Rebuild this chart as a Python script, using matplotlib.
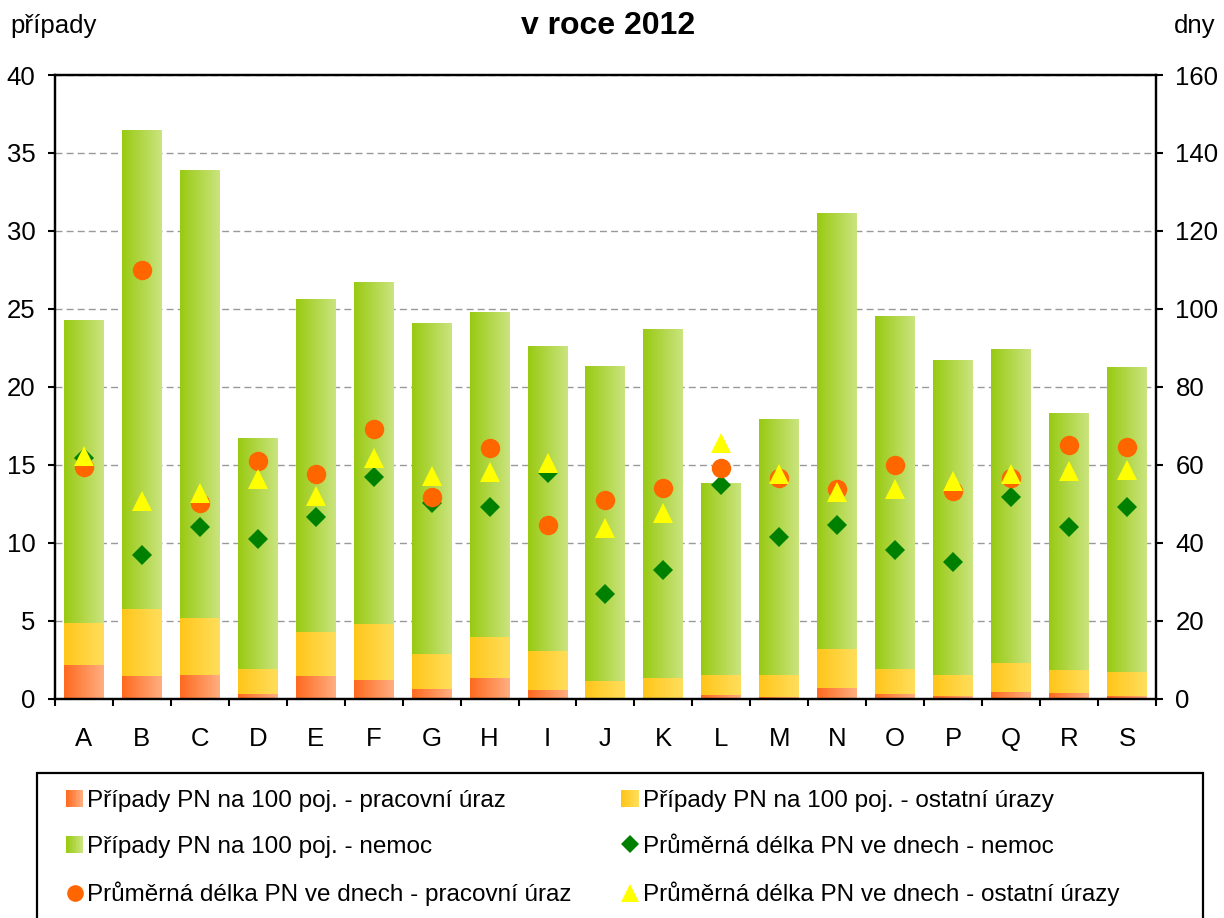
import numpy as np
import matplotlib
matplotlib.use('Agg')
import matplotlib.pyplot as plt
from matplotlib.colors import LinearSegmentedColormap
from matplotlib.legend_handler import HandlerBase
from matplotlib.patches import Rectangle, Patch
from matplotlib.lines import Line2D

plt.rcParams['font.family'] = ['Liberation Sans', 'DejaVu Sans']

# data
categories = list('ABCDEFGHIJKLMNOPQRS')
pripady_uraz = [2.2, 1.5, 1.55, 0.3, 1.5, 1.2, 0.65, 1.35, 0.6, 0.05,
                0.05, 0.25, 0.15, 0.7, 0.3, 0.2, 0.45, 0.4, 0.2]
pripady_ostatni = [2.67, 4.27, 3.64, 1.62, 2.79, 3.61, 2.23, 2.62, 2.48, 1.1,
                   1.3, 1.29, 1.39, 2.5, 1.62, 1.34, 1.86, 1.46, 1.53]
pripady_nemoc = [19.4, 30.7, 28.7, 14.8, 21.3, 21.9, 21.2, 20.8, 19.5, 20.15,
                 22.35, 12.3, 16.35, 27.9, 22.6, 20.15, 20.1, 16.45, 19.55]
delka_nemoc = [61.8, 36.9, 44.2, 41.0, 46.7, 56.8, 50.2, 49.1, 57.9, 27.0,
               33.0, 54.8, 41.5, 44.6, 38.2, 35.1, 51.9, 44.2, 49.2]
delka_uraz = [59.5, 110, 50.2, 61.0, 57.6, 69.1, 51.9, 64.3, 44.7, 50.9,
              54.1, 59.2, 56.6, 53.8, 60.0, 53.2, 56.6, 65.0, 64.5]
delka_ostatni = [62.4, 50.8, 52.7, 56.3, 52.0, 61.8, 57.3, 58.2, 60.6, 43.8,
                 47.6, 65.6, 57.7, 53.0, 53.8, 56.0, 57.8, 58.5, 58.7]

grad_orange = ('#FF6A1F', '#FFAE80')
grad_yellow = ('#FFC61A', '#FFDE5C')
grad_green = ('#99CA12', '#CAE47E')


def fill_gradient(ax, bars, colors):
    cmap = LinearSegmentedColormap.from_list('g', list(colors))
    grad = np.linspace(0, 1, 64).reshape(1, -1)
    for b in bars:
        x, y = b.get_x(), b.get_y()
        w, h = b.get_width(), b.get_height()
        ax.imshow(grad, cmap=cmap, extent=[x, x + w, y, y + h],
                  aspect='auto', zorder=2, interpolation='bilinear')
        b.set_visible(False)


class GradientHandler(HandlerBase):
    def __init__(self, colors):
        super().__init__()
        self.colors = colors

    def create_artists(self, legend, orig_handle, xdescent, ydescent,
                       width, height, fontsize, trans):
        cmap = LinearSegmentedColormap.from_list('g', list(self.colors))
        n = 12
        arts = []
        for i in range(n):
            r = Rectangle((-xdescent + width * i / n, -ydescent), width / n + 0.3, height,
                          facecolor=cmap(i / (n - 1)), edgecolor='none', transform=trans)
            arts.append(r)
        return arts


fig = plt.figure(figsize=(12.24, 9.18), dpi=100)
ax = fig.add_axes([0.0449, 0.2386, 0.8995, 0.6797])
x = np.arange(len(categories))
w = 0.69

b1 = ax.bar(x, pripady_uraz, w)
b2 = ax.bar(x, pripady_ostatni, w, bottom=pripady_uraz)
bottom3 = np.array(pripady_uraz) + np.array(pripady_ostatni)
b3 = ax.bar(x, pripady_nemoc, w, bottom=bottom3)
fill_gradient(ax, b1, grad_orange)
fill_gradient(ax, b2, grad_yellow)
fill_gradient(ax, b3, grad_green)

ax.set_xlim(-0.5, len(categories) - 0.5)
ax.set_ylim(0, 40)
ax.set_yticks(range(0, 41, 5))
ax.set_xticks(x)
ax.set_xticklabels(categories)
ax.set_xticks(np.arange(-0.5, len(categories)), minor=True)
ax.tick_params(axis='x', which='major', length=0, pad=20, labelsize=18.5)
ax.tick_params(axis='x', which='minor', length=5, width=1.5, direction='out')
ax.tick_params(axis='y', length=5, width=1.5, pad=9, labelsize=18.5)
ax.yaxis.grid(True, linestyle=(0, (5, 3)), color='#999999', linewidth=1)
ax.set_axisbelow(True)
for s in ax.spines.values():
    s.set_linewidth(1.6)

ax2 = ax.twinx()
ax2.set_ylim(0, 160)
ax2.set_yticks(range(0, 161, 20))
ax2.tick_params(axis='y', length=5, width=1.5, pad=9, labelsize=18.5)
for s in ax2.spines.values():
    s.set_linewidth(1.6)
ax2.plot(x, delka_nemoc, linestyle='none', marker='D', markersize=10.5,
         color='#008000', markeredgewidth=0)
ax2.plot(x, delka_uraz, linestyle='none', marker='o', markersize=14,
         color='#FF6600', markeredgewidth=0)
ax2.plot(x, delka_ostatni, linestyle='none', marker='^', markersize=14.5,
         color='#FFFF00', markeredgewidth=0)

fig.text(0.497, 0.972, 'v roce 2012', ha='center', va='center',
         fontsize=23, fontweight='bold')
fig.text(10 / 1224, 0.972, 'případy', ha='left', va='center', fontsize=18.5)
fig.text(1215 / 1224, 0.972, 'dny', ha='right', va='center', fontsize=18.5)

# legend
h_or = Patch(label='or')
h_ye = Patch(label='ye')
h_gr = Patch(label='gr')
h_d = Line2D([], [], linestyle='none', marker='D', markersize=9, color='#008000', markeredgewidth=0)
h_o = Line2D([], [], linestyle='none', marker='o', markersize=12, color='#FF6600', markeredgewidth=0)
h_t = Line2D([], [], linestyle='none', marker='^', markersize=13, color='#FFFF00', markeredgewidth=0)
handles = [h_or, h_gr, h_o, h_ye, h_d, h_t]
labels = ['Případy PN na 100 poj. - pracovní úraz',
          'Případy PN na 100 poj. - nemoc',
          'Průměrná délka PN ve dnech - pracovní úraz',
          'Případy PN na 100 poj. - ostatní úrazy',
          'Průměrná délka PN ve dnech - nemoc',
          'Průměrná délka PN ve dnech - ostatní úrazy']
fig.legend(handles, labels, ncol=2, loc='upper left',
           bbox_to_anchor=(66 / 1224, 1 - 790 / 918), frameon=False,
           fontsize=17.5, handlelength=0.7, handleheight=0.7, handletextpad=0.17,
           labelspacing=0.98, columnspacing=2.05, borderpad=0, borderaxespad=0,
           handler_map={h_or: GradientHandler(grad_orange),
                        h_ye: GradientHandler(grad_yellow),
                        h_gr: GradientHandler(grad_green)})
fig.patches.append(Rectangle((37 / 1224, -0.1), (1203 - 37) / 1224, 0.1 + (918 - 773) / 918,
                             transform=fig.transFigure, fill=False,
                             edgecolor='black', linewidth=1.6))

fig.savefig('out.png', dpi=100)
